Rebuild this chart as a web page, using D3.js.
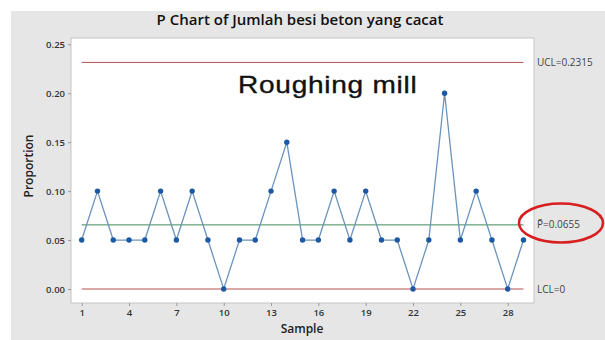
<!DOCTYPE html>
<html>
<head>
<meta charset="utf-8">
<script src="https://cdn.jsdelivr.net/npm/d3@7"></script>
<style>
  html, body { margin: 0; padding: 0; background: #ffffff; }
  svg { display: block; }
</style>
</head>
<body>
<svg id="chart" width="605" height="340"></svg>
<script>
// Proportion of defective rebar per sample
const samples = d3.range(1, 30);
const proportions = [0.05, 0.10, 0.05, 0.05, 0.05, 0.10, 0.05, 0.10, 0.05, 0.00,
                     0.05, 0.05, 0.10, 0.15, 0.05, 0.05, 0.10, 0.05, 0.10, 0.05,
                     0.05, 0.00, 0.05, 0.20, 0.05, 0.10, 0.05, 0.00, 0.05];
const xTickValues = [1, 4, 7, 10, 13, 16, 19, 22, 25, 28];
const yTickValues = [0, 0.05, 0.10, 0.15, 0.20, 0.25];
const ucl = 0.2315;
const pBar = 0.0655;
const lcl = 0;
const limitLabels = ["UCL=0.2315", "P=0.0655", "LCL=0"];

const svg = d3.select("#chart");
const font = "'Open Sans', 'Noto Sans', sans-serif";

// grey panel behind the plot
svg.append("rect").attr("x", 11).attr("y", 11).attr("width", 594).attr("height", 329)
  .attr("fill", "#e6e6e6");

const plot = { left: 71, top: 38, right: 534, bottom: 303 };
svg.append("rect")
  .attr("x", plot.left).attr("y", plot.top)
  .attr("width", plot.right - plot.left).attr("height", plot.bottom - plot.top)
  .attr("fill", "#ffffff").attr("stroke", "#c4c4c4").attr("stroke-width", 1);

const x = d3.scaleLinear().domain([1, 28]).range([81.7, 507.7]);
const y = d3.scaleLinear().domain([0, 0.25]).range([289, 44.3]);

// axes
const xAxis = svg.append("g").attr("transform", `translate(0,${plot.bottom})`)
  .call(d3.axisBottom(x).tickValues(xTickValues).tickSize(3).tickPadding(3).tickFormat(d3.format("d")));
const yAxis = svg.append("g").attr("transform", `translate(${plot.left},0)`)
  .call(d3.axisLeft(y).tickValues(yTickValues).tickSize(3).tickPadding(3).tickFormat(d3.format(".2f")));
[xAxis, yAxis].forEach(g => {
  g.select(".domain").remove();
  g.selectAll(".tick line").attr("stroke", "#9a9a9a");
  g.selectAll(".tick text").attr("fill", "#333").attr("font-family", font)
    .attr("font-size", 9.5).attr("font-weight", 600);
});

// control limits, spanning the samples
const limits = [
  { v: ucl, color: "#b5514c" },
  { v: pBar, color: "#3e8a57" },
  { v: lcl, color: "#b5514c" }
];
svg.selectAll(".limit").data(limits).enter().append("line")
  .attr("x1", x(samples[0])).attr("x2", x(samples[samples.length - 1]))
  .attr("y1", d => y(d.v)).attr("y2", d => y(d.v))
  .attr("stroke", d => d.color).attr("stroke-width", 1);

// proportions line and points
const line = d3.line().x((d, i) => x(samples[i])).y(d => y(d));
svg.append("path").datum(proportions).attr("d", line)
  .attr("fill", "none").attr("stroke", "#6a94be").attr("stroke-width", 1.3);
svg.selectAll(".pt").data(proportions).enter().append("circle")
  .attr("cx", (d, i) => x(samples[i])).attr("cy", d => y(d)).attr("r", 2.7)
  .attr("fill", "#1d58a3");

// limit labels
const labelG = svg.append("g").attr("font-family", font).attr("font-size", 10).attr("fill", "#444");
labelG.append("text").attr("x", 537).attr("y", y(ucl) + 3.5).text(limitLabels[0]);
const pText = labelG.append("text").attr("x", 537).attr("y", y(pBar) + 3.5);
pText.append("tspan").text("P\u0304");
pText.append("tspan").text(limitLabels[1].slice(1));
labelG.append("text").attr("x", 537).attr("y", y(lcl) + 3.5).text(limitLabels[2]);

// red ring highlighting the centre line value
svg.append("ellipse").attr("cx", 561).attr("cy", 223).attr("rx", 42).attr("ry", 19.5)
  .attr("fill", "none").attr("stroke", "#d71f20").attr("stroke-width", 2.6);

// titles
svg.append("text").attr("x", 300).attr("y", 25).attr("text-anchor", "middle")
  .attr("font-family", font).attr("font-size", 15).attr("font-weight", 600).attr("fill", "#111")
  .text("P Chart of Jumlah besi beton yang cacat");
svg.append("text").attr("x", 302).attr("y", 333).attr("text-anchor", "middle")
  .attr("font-family", font).attr("font-size", 12).attr("font-weight", 600).attr("fill", "#222")
  .text("Sample");
svg.append("text").attr("transform", "translate(33,166) rotate(-90)").attr("text-anchor", "middle")
  .attr("font-family", font).attr("font-size", 12).attr("font-weight", 600).attr("fill", "#222")
  .text("Proportion");

// section caption inside the plot, drawn in a wide face
svg.append("text").attr("transform", "translate(238,93.3) scale(1.22,1)")
  .attr("font-family", "'Liberation Sans', Arial, sans-serif").attr("font-size", 23)
  .attr("letter-spacing", 0.6).attr("fill", "#111")
  .attr("stroke", "#111").attr("stroke-width", 0.35)
  .text("Roughing mill");
</script>
</body>
</html>
